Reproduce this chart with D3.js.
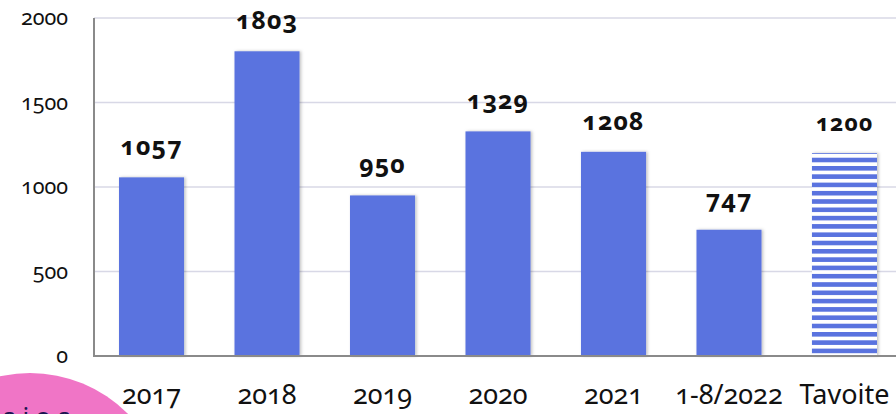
<!DOCTYPE html>
<html>
<head>
<meta charset="utf-8">
<script src="https://cdn.jsdelivr.net/npm/d3@7"></script>
<style>
  html, body { margin: 0; padding: 0; background: #fff; overflow: hidden; }
  svg text { font-family: "Noto Sans", "Open Sans", sans-serif; font-feature-settings: "onum" 1; font-variant-numeric: oldstyle-nums; }
</style>
</head>
<body>
<svg id="chart"></svg>
<script>
// Datos
const categories = ["2017", "2018", "2019", "2020", "2021", "1-8/2022", "Tavoite"];
const values = [1057, 1803, 950, 1329, 1208, 747, 1200];
const yTicks = [0, 500, 1000, 1500, 2000];
const targetCategory = "Tavoite";

const width = 896;
const height = 414;

const svg = d3.select("#chart")
    .attr("width", width)
    .attr("height", height);

const defs = svg.append("defs");

// rayas horizontales para la barra objetivo
const pat = defs.append("pattern")
    .attr("id", "stripes")
    .attr("patternUnits", "userSpaceOnUse")
    .attr("width", 10)
    .attr("height", 8.3);
pat.append("rect").attr("width", 10).attr("height", 8.3).attr("fill", "#fff");
pat.append("rect").attr("width", 10).attr("height", 4.6).attr("fill", "#5a73df");

const shadow = defs.append("filter")
    .attr("id", "shadow")
    .attr("x", "-20%").attr("y", "-5%")
    .attr("width", "140%").attr("height", "110%");
shadow.append("feDropShadow")
    .attr("dx", 1.5).attr("dy", 0)
    .attr("stdDeviation", 1.5)
    .attr("flood-color", "#000")
    .attr("flood-opacity", 0.25);

const x = d3.scaleBand()
    .domain(categories)
    .range([94, 902])
    .paddingInner(0.437)
    .paddingOuter(0.2165);

const y = d3.scaleLinear()
    .domain([0, 2000])
    .range([356, 18]);

// Líneas de cuadrícula
svg.selectAll(".grid")
    .data(yTicks.filter(d => d > 0))
    .enter()
    .append("line")
    .attr("x1", 94)
    .attr("x2", width)
    .attr("y1", d => y(d))
    .attr("y2", d => y(d))
    .attr("stroke", "#d8d8e6")
    .attr("stroke-width", 1.5);

// Etiquetas del eje Y
svg.selectAll(".ytick")
    .data(yTicks)
    .enter()
    .append("text")
    .attr("x", 68)
    .attr("y", d => y(d) + 7)
    .attr("text-anchor", "end")
    .attr("font-size", "21.5px")
    .attr("fill", "#111")
    .text(d => d);

// Barras
svg.selectAll(".bar")
    .data(categories)
    .enter()
    .append("rect")
    .attr("x", d => x(d))
    .attr("width", x.bandwidth())
    .attr("y", (d, i) => y(values[i]))
    .attr("height", (d, i) => y(0) - y(values[i]))
    .attr("fill", d => d === targetCategory ? "url(#stripes)" : "#5a73df")
    .attr("filter", "url(#shadow)");

// Ejes
svg.append("line")
    .attr("x1", 94).attr("x2", 94)
    .attr("y1", y(2000)).attr("y2", y(0) + 1)
    .attr("stroke", "#8a8a8a")
    .attr("stroke-width", 2);
svg.append("line")
    .attr("x1", 93).attr("x2", width)
    .attr("y1", y(0)).attr("y2", y(0))
    .attr("stroke", "#8a8a8a")
    .attr("stroke-width", 2);

// Valores encima de las barras
svg.selectAll(".value")
    .data(categories)
    .enter()
    .append("text")
    .attr("x", d => x(d) + x.bandwidth() / 2)
    .attr("y", (d, i) => y(values[i]) - 22)
    .attr("text-anchor", "middle")
    .attr("font-size", d => d === targetCategory ? "23px" : "25px")
    .attr("font-weight", "bold")
    .attr("letter-spacing", "1px")
    .attr("fill", "#111")
    .text((d, i) => values[i]);

// Etiquetas del eje X
svg.selectAll(".xlabel")
    .data(categories)
    .enter()
    .append("text")
    .attr("x", d => x(d) + x.bandwidth() / 2)
    .attr("y", 404)
    .attr("text-anchor", "middle")
    .attr("font-size", "27px")
    .attr("fill", "#111")
    .text(d => d);

// Círculo rosa (recortado abajo a la izquierda)
svg.append("circle")
    .attr("cx", 30)
    .attr("cy", 511)
    .attr("r", 138)
    .attr("fill", "#f075c6");
svg.append("text")
    .attr("x", 2)
    .attr("y", 426)
    .attr("font-size", "26px")
    .attr("fill", "#1a1450")
    .attr("letter-spacing", "6px")
    .text("aioa");
</script>
</body>
</html>
